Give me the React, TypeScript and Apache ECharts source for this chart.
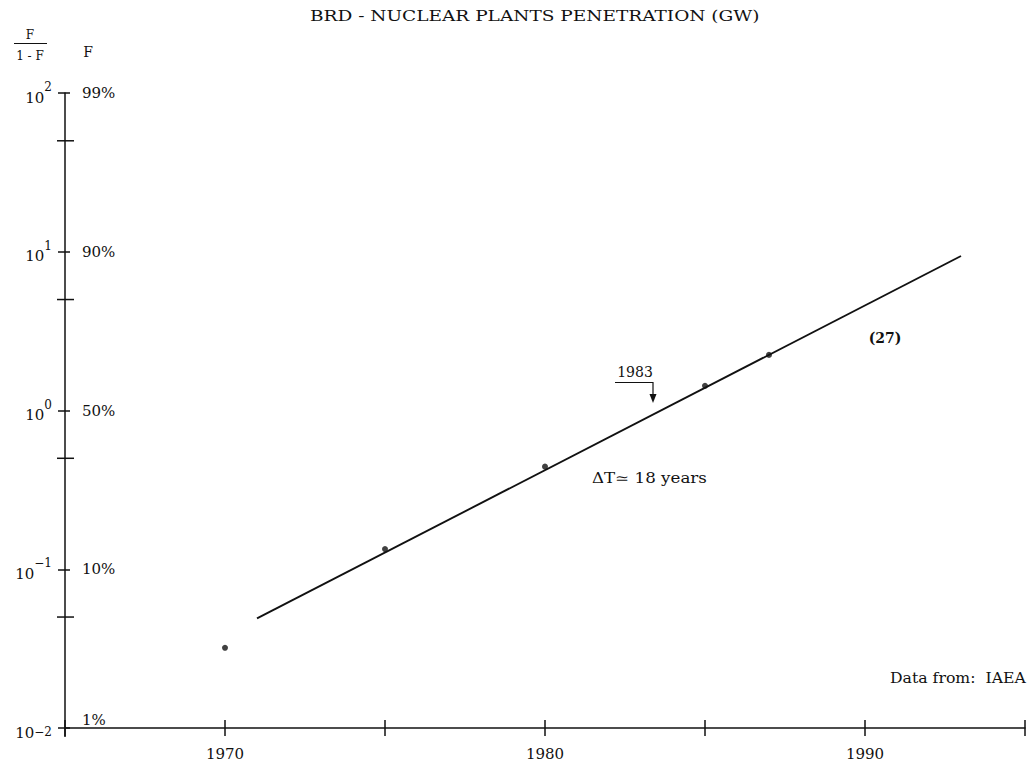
import React, { useEffect, useRef } from "react";
import * as echarts from "echarts";

// Observed data: F/(1-F) for nuclear plants in BRD
const years = [1970, 1975, 1980, 1985, 1987];
const ratios = [0.032, 0.134, 0.443, 1.43, 2.24];

// Fitted logistic (straight line in Fisher-Pry coordinates)
const fitYears = [1971, 1993];
const fitRatios = [0.049, 9.4];

// Axis ticks
const decadeValues = [0.01, 0.1, 1, 10, 100];
const decadeExponents = ["−2", "−1", "0", "1", "2"];
const percentLabels = ["1%", "10%", "50%", "90%", "99%"];
const minorTickValues = [0.05, 0.5, 5, 50];
const labeledYears = [1970, 1980, 1990];

const SERIF = "'DejaVu Serif', 'Liberation Serif', serif";
const INK = "#111";

function decadeIndex(v: number): number {
  const e = Math.round(Math.log10(v));
  return decadeValues.findIndex((d) => Math.round(Math.log10(d)) === e);
}

function stretch(text: string, font: string, target: number): number {
  const c = document.createElement("canvas").getContext("2d");
  if (!c) return 1;
  c.font = font;
  const w = c.measureText(text).width;
  return w > 0 ? target / w : 1;
}

export default function App() {
  const ref = useRef<HTMLDivElement>(null);

  useEffect(() => {
    if (!ref.current) return;
    const chart = echarts.init(ref.current, undefined, { renderer: "svg" });

    const title = "BRD - NUCLEAR PLANTS PENETRATION (GW)";
    const titleScale = stretch(title, "15px 'DejaVu Serif'", 450);
    const source = "Data from:  IAEA";
    const sourceScale = stretch(source, "14px 'DejaVu Serif'", 136);
    const dt = "ΔT≃ 18 years";
    const dtScale = stretch(dt, "14px 'DejaVu Serif'", 115);

    const option: any = {
      animation: false,
      backgroundColor: "#fff",
      grid: { left: 65, top: 93, bottom: 38, width: 965 },
      xAxis: [
        {
          type: "value",
          min: 1965,
          max: 1995,
          interval: 5,
          axisLine: { show: true, onZero: false, lineStyle: { color: INK, width: 1.5 } },
          axisTick: { show: true, length: 8, lineStyle: { color: INK, width: 1.5 } },
          axisLabel: {
            margin: 18,
            fontFamily: SERIF,
            fontSize: 15,
            color: INK,
            formatter: (v: number) => (labeledYears.indexOf(Math.round(v)) >= 0 ? String(Math.round(v)) : ""),
          },
          splitLine: { show: false },
        },
        {
          type: "value",
          min: 1965,
          max: 1995,
          interval: 5,
          position: "bottom",
          axisLine: { show: false },
          axisTick: { show: true, inside: true, length: 8, lineStyle: { color: INK, width: 1.5 } },
          axisLabel: { show: false },
          splitLine: { show: false },
        },
      ],
      yAxis: [
        {
          type: "log",
          logBase: 10,
          min: 0.01,
          max: 100,
          position: "left",
          axisLine: { show: true, onZero: false, lineStyle: { color: INK, width: 1.5 } },
          axisTick: { show: true, length: 7, lineStyle: { color: INK, width: 1.5 } },
          axisLabel: {
            margin: 13,
            formatter: (v: number) => {
              const i = decadeIndex(v);
              if (i < 0) return "";
              return i === 0
                ? `{bl|10}{sl|${decadeExponents[i]}}`
                : `{b|10}{s|${decadeExponents[i]}}`;
            },
            rich: {
              b: { fontFamily: SERIF, fontSize: 15, color: INK, verticalAlign: "bottom", lineHeight: 24 },
              s: { fontFamily: SERIF, fontSize: 12, color: INK, verticalAlign: "top", lineHeight: 24 },
              bl: { fontFamily: SERIF, fontSize: 15, color: INK, verticalAlign: "bottom", lineHeight: 24, padding: [10, 0, 0, 0] },
              sl: { fontFamily: SERIF, fontSize: 12, color: INK, verticalAlign: "top", lineHeight: 24, padding: [10, 0, 0, 0] },
            },
          },
          splitLine: { show: false },
        },
        {
          type: "log",
          logBase: 10,
          min: 0.01,
          max: 100,
          position: "left",
          axisLine: { show: false },
          axisTick: { show: true, inside: true, length: 5, lineStyle: { color: INK, width: 1.5 } },
          axisLabel: {
            inside: true,
            margin: 17,
            formatter: (v: number) => {
              const i = decadeIndex(v);
              if (i < 0) return "";
              return i === 0 ? `{up|${percentLabels[i]}}` : `{n|${percentLabels[i]}}`;
            },
            rich: {
              n: { fontFamily: SERIF, fontSize: 15, color: INK },
              up: { fontFamily: SERIF, fontSize: 15, color: INK, padding: [0, 0, 16, 0] },
            },
          },
          splitLine: { show: false },
        },
      ],
      series: [
        {
          type: "line",
          xAxisIndex: 0,
          yAxisIndex: 0,
          data: fitYears.map((y, i) => [y, fitRatios[i]]),
          showSymbol: false,
          lineStyle: { color: INK, width: 1.9 },
          silent: true,
        },
        {
          type: "scatter",
          xAxisIndex: 0,
          yAxisIndex: 0,
          data: years.map((y, i) => [y, ratios[i]]),
          symbol: "circle",
          symbolSize: 6,
          itemStyle: { color: INK },
          silent: true,
        },
        {
          // cross-shaped minor ticks at 5 x 10^n on the F/(1-F) axis
          type: "custom",
          xAxisIndex: 0,
          yAxisIndex: 0,
          clip: false,
          silent: true,
          data: minorTickValues.map((v) => [1965, v]),
          renderItem: (params: any, api: any) => {
            const p = api.coord([api.value(0), api.value(1)]);
            return {
              type: "line",
              shape: { x1: p[0] - 8, y1: p[1], x2: p[0] + 9, y2: p[1] },
              style: { stroke: INK, lineWidth: 1.5 },
            };
          },
        },
        {
          // small stub of the vertical axis below the origin
          type: "custom",
          xAxisIndex: 0,
          yAxisIndex: 0,
          clip: false,
          silent: true,
          data: [[1965, 0.01]],
          renderItem: (params: any, api: any) => {
            const p = api.coord([api.value(0), api.value(1)]);
            return {
              type: "line",
              shape: { x1: p[0], y1: p[1], x2: p[0], y2: p[1] + 9 },
              style: { stroke: INK, lineWidth: 1.5 },
            };
          },
        },
      ],
      graphic: [
        {
          type: "text",
          x: 310,
          y: 16,
          scaleX: titleScale,
          style: { text: title, fontFamily: SERIF, fontSize: 15, fill: INK, verticalAlign: "middle" },
        },
        // F/(1-F) header
        { type: "text", x: 30, y: 35, style: { text: "F", fontFamily: SERIF, fontSize: 12, fill: INK, align: "center", verticalAlign: "middle" } },
        { type: "line", shape: { x1: 14, y1: 43.5, x2: 47, y2: 43.5 }, style: { stroke: INK, lineWidth: 1 } },
        { type: "text", x: 30, y: 56, style: { text: "1 - F", fontFamily: SERIF, fontSize: 12, fill: INK, align: "center", verticalAlign: "middle" } },
        { type: "text", x: 88, y: 52, style: { text: "F", fontFamily: SERIF, fontSize: 14, fill: INK, align: "center", verticalAlign: "middle" } },
        // 1983 annotation
        { type: "text", x: 635, y: 372, style: { text: "1983", fontFamily: SERIF, fontSize: 14, fill: INK, align: "center", verticalAlign: "middle" } },
        { type: "polyline", shape: { points: [[615, 382.5], [653, 382.5], [653, 396]] }, style: { stroke: INK, lineWidth: 1.2, fill: "none" } },
        { type: "polygon", shape: { points: [[649.5, 394], [656.5, 394], [653, 403]] }, style: { fill: INK } },
        // Other annotations
        { type: "text", x: 592, y: 478, scaleX: dtScale, style: { text: dt, fontFamily: SERIF, fontSize: 14, fill: INK, verticalAlign: "middle" } },
        { type: "text", x: 885, y: 338, style: { text: "(27)", fontFamily: SERIF, fontSize: 14, fontWeight: "bold", fill: INK, align: "center", verticalAlign: "middle" } },
        { type: "text", x: 1026 - 136, y: 678, scaleX: sourceScale, style: { text: source, fontFamily: SERIF, fontSize: 14, fill: INK, verticalAlign: "middle" } },
      ],
    };

    chart.setOption(option);
    return () => chart.dispose();
  }, []);

  return (
    <div
      ref={ref}
      style={{ position: "fixed", left: 0, top: 0, width: 1028, height: 766, background: "#fff" }}
    />
  );
}
